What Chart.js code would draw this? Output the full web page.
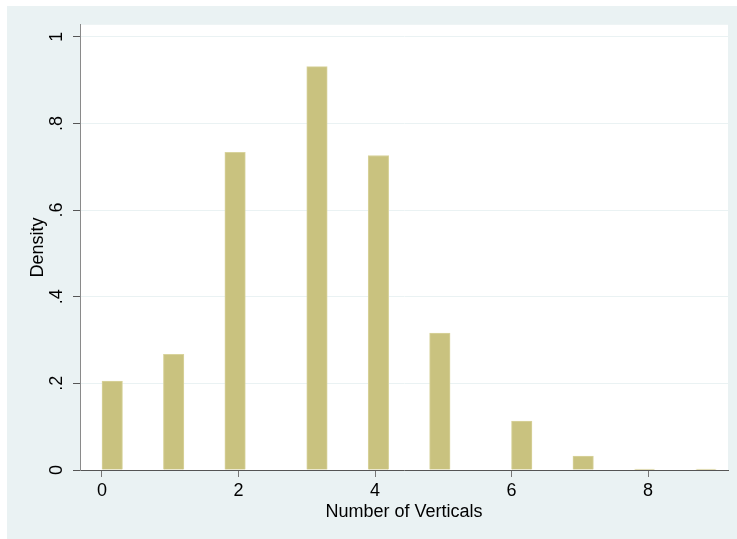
<!DOCTYPE html>
<html>
<head>
<meta charset="utf-8">
<script src="https://cdn.jsdelivr.net/npm/chart.js@4/dist/chart.umd.min.js"></script>
<style>
  html, body { margin: 0; padding: 0; background: #ffffff; }
  #frame {
    position: absolute; left: 7px; top: 6px;
    width: 730px; height: 533px;
    background: #eaf2f3;
  }
</style>
</head>
<body>
<div id="frame"><canvas id="hist" width="730" height="533"></canvas></div>
<script>

// observed values and their density
var values  = [0, 1, 2, 3, 4, 5, 6, 7, 8, 9];
var density = [0.205, 0.267, 0.733, 0.931, 0.726, 0.316, 0.113, 0.032, 0.002, 0.002];

var binWidth = 0.3;
var binCount = 30;

var xTicks  = [0, 2, 4, 6, 8];
var yTicks  = [0, 0.2, 0.4, 0.6, 0.8, 1];
var yLabels = ["0", ".2", ".4", ".6", ".8", "1"];

var xTitle = "Number of Verticals";
var yTitle = "Density";


// put each value in its bin (last bin is closed)
var bins = [];
for (var i = 0; i < binCount; i++) {
    bins.push({ x: i * binWidth + binWidth / 2, y: null });
}
for (var k = 0; k < values.length; k++) {
    var idx = Math.floor(values[k] / binWidth + 1e-9);
    if (idx >= binCount) idx = binCount - 1;
    bins[idx].y = density[k];
}

// white plot region
var plotBg = {
    id: 'plotBg',
    beforeDraw: function(chart) {
        var a = chart.chartArea;
        var c = chart.ctx;
        c.save();
        c.fillStyle = '#ffffff';
        c.fillRect(a.left, a.top, a.right - a.left, a.bottom - a.top);
        c.restore();
    }
};

var font = { family: "'Liberation Sans', Arial, Helvetica, sans-serif", size: 18 };

var ctx = document.getElementById("hist").getContext("2d");
window.myHist = new Chart(ctx, {
    type: 'bar',
    data: {
        datasets: [{
            data: bins,
            backgroundColor: '#c9c27f',
            borderColor: '#d8d39c',
            borderWidth: 1,
            barPercentage: 1,
            categoryPercentage: 1
        }]
    },
    plugins: [plotBg],
    options: {
        responsive: false,
        animation: false,
        events: [],
        layout: { padding: { left: 0, top: 18, right: 9, bottom: 0 } },
        plugins: { legend: { display: false }, tooltip: { enabled: false } },
        scales: {
            x: {
                type: 'linear',
                offset: false,
                min: -0.3223,
                max: 9.172,
                afterBuildTicks: function(scale) {
                    scale.ticks = xTicks.map(function(v) { return { value: v }; });
                },
                afterFit: function(scale) { scale.height = 69; },
                grid: { offset: false, drawOnChartArea: false, tickLength: 7, tickColor: '#777777' },
                border: { color: '#555555', width: 1 },
                ticks: { color: '#000', font: font, padding: 3, maxRotation: 0 },
                title: { display: true, text: xTitle, color: '#000', font: font, padding: { top: 0, bottom: 16 } }
            },
            y: {
                min: 0,
                max: 1.0276,
                afterBuildTicks: function(scale) {
                    scale.ticks = yTicks.map(function(v) { return { value: v }; });
                },
                afterFit: function(scale) { scale.width = 73; },
                grid: {
                    tickLength: 7,
                    color: function(c) { return c.tick && c.tick.value === 0 ? 'rgba(0,0,0,0)' : '#eaf2f3'; },
                    tickColor: '#555555'
                },
                border: { color: '#8a8a8a', width: 1 },
                ticks: {
                    color: '#000', font: font, padding: 8,
                    minRotation: 90, maxRotation: 90, crossAlign: 'center',
                    callback: function(v, i) { return yLabels[i]; }
                },
                title: { display: true, text: yTitle, color: '#000', font: font, padding: { top: 20, bottom: 0 } }
            }
        }
    }
});
</script>
</body>
</html>
